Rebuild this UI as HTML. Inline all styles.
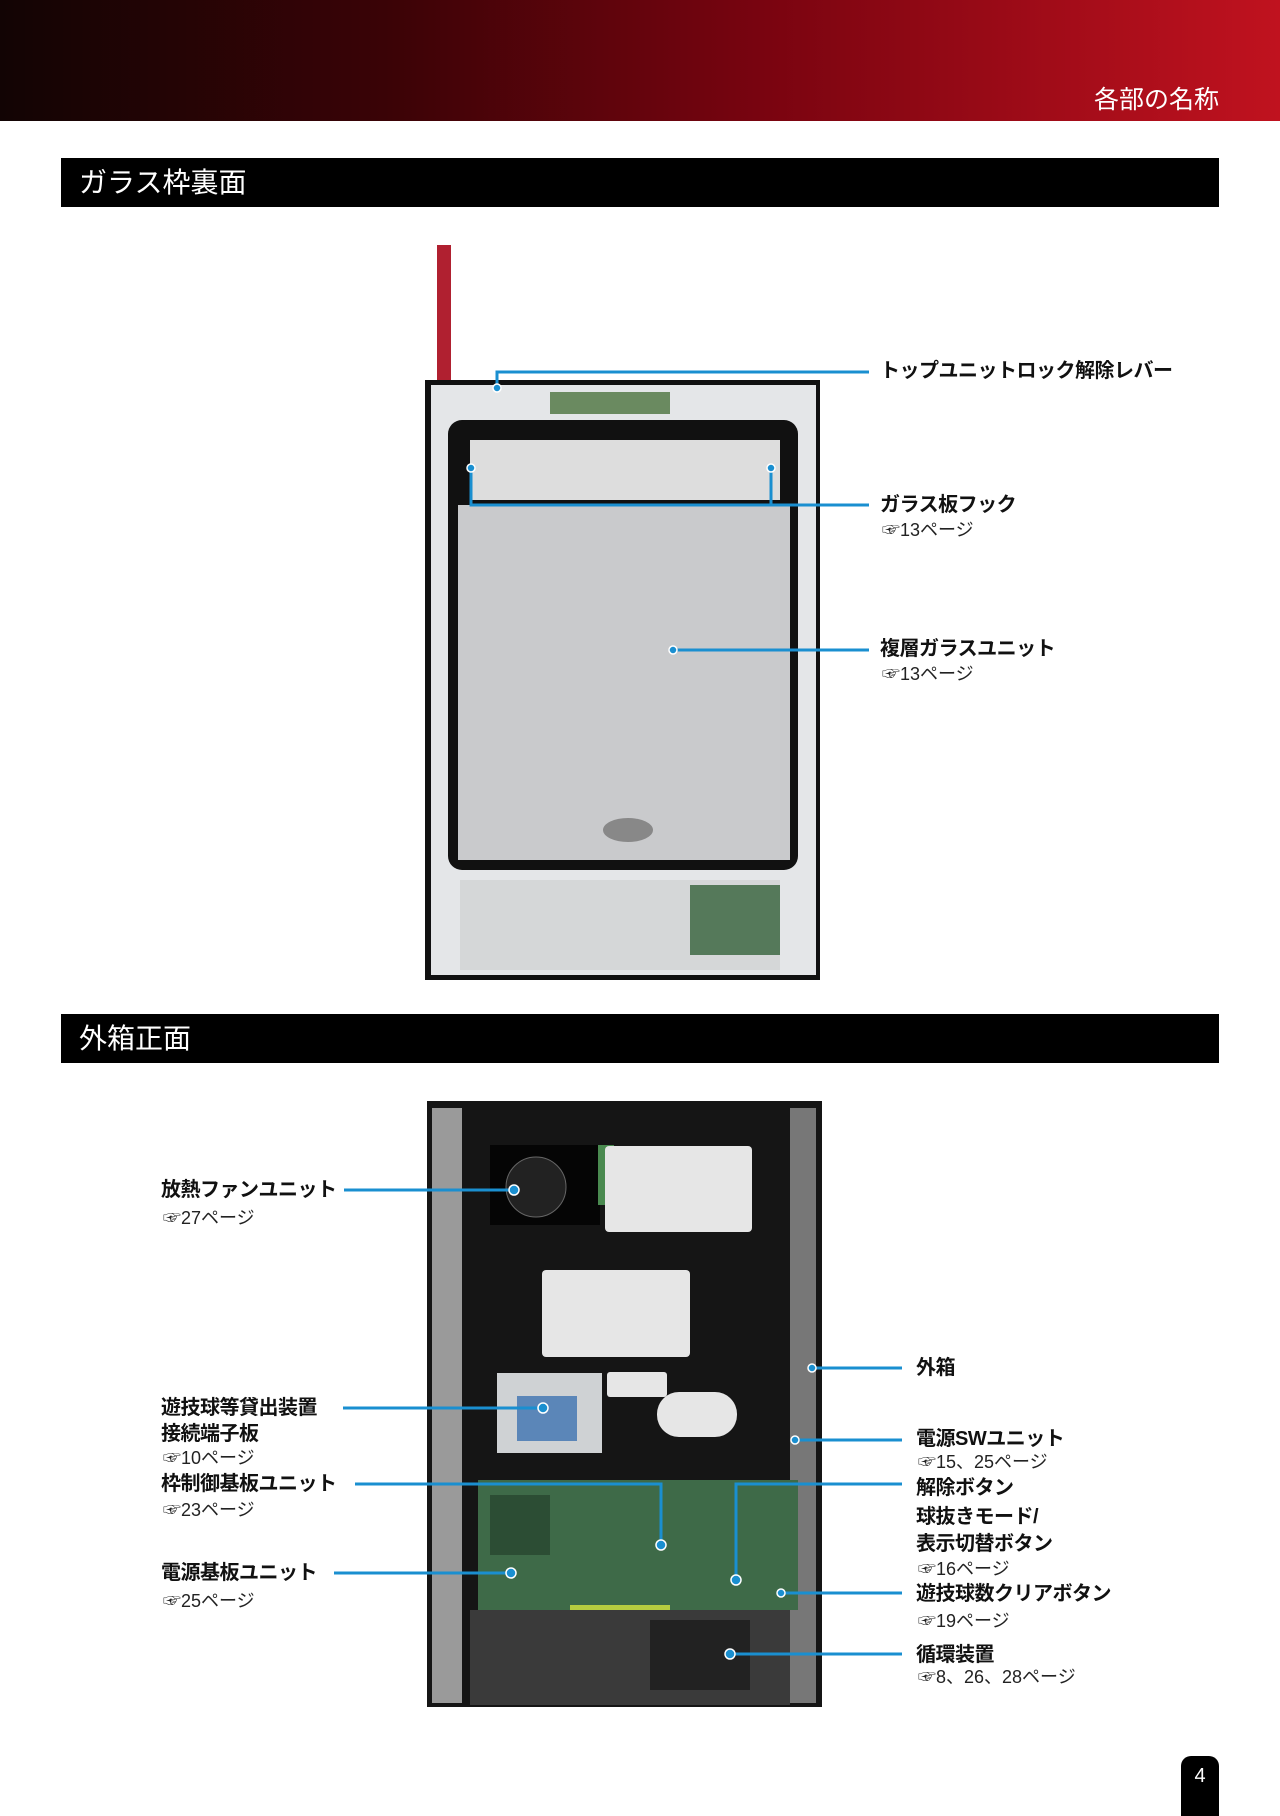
<!DOCTYPE html>
<html><head><meta charset="utf-8"><style>
body{margin:0;width:1280px;height:1811px;position:relative;background:#fff;font-family:"Liberation Sans","Noto Sans CJK JP",sans-serif;overflow:hidden}
.hdr{position:absolute;left:0;top:0;width:1280px;height:121px;background:linear-gradient(90deg,#120404 0%,#3a0306 30%,#7a0410 60%,#c0121f 100%)}
.hdr span{position:absolute;right:61px;top:80px;color:#fff;font-size:25px}
.bar{position:absolute;left:61px;width:1158px;height:49px;background:#000;color:#fff;font-size:28px;line-height:49px}
.bar span{margin-left:18px}
.l{position:absolute;font-size:20px;font-weight:bold;color:#111;white-space:nowrap;line-height:1;letter-spacing:-0.5px}
.s{position:absolute;font-size:18px;color:#222;white-space:nowrap;line-height:1}
svg{position:absolute;left:0;top:0}
</style></head><body>
<div class="hdr"><span>各部の名称</span></div>
<div class="bar" style="top:158px"><span>ガラス枠裏面</span></div>
<div class="bar" style="top:1014px"><span>外箱正面</span></div>

<svg width="1280" height="1811">
<!-- glass frame -->
<rect x="437" y="245" width="14" height="140" fill="#b02030"/>
<rect x="425" y="380" width="395" height="600" fill="#111"/>
<rect x="431" y="385" width="385" height="590" fill="#e4e6e8"/>
<rect x="448" y="420" width="350" height="450" rx="14" fill="#111"/>
<rect x="458" y="505" width="332" height="355" fill="#c9cacc"/>
<rect x="470" y="440" width="310" height="60" fill="#ddd"/>
<rect x="550" y="392" width="120" height="22" fill="#6a8a60"/>
<rect x="460" y="880" width="320" height="90" fill="#d5d7d8"/>
<rect x="690" y="885" width="90" height="70" fill="#55795a"/>
<ellipse cx="628" cy="830" rx="25" ry="12" fill="#888"/>
<!-- outer box -->
<rect x="427" y="1101" width="395" height="606" fill="#151515"/>
<rect x="432" y="1108" width="30" height="595" fill="#9a9a9a"/>
<rect x="790" y="1108" width="26" height="595" fill="#777"/>
<rect x="490" y="1145" width="110" height="80" fill="#050505"/>
<circle cx="536" cy="1187" r="30" fill="#222" stroke="#666"/>
<rect x="598" y="1145" width="16" height="60" fill="#4a8a50"/>
<rect x="605" y="1146" width="147" height="86" rx="4" fill="#e6e6e6"/>
<rect x="542" y="1270" width="148" height="87" rx="4" fill="#e6e6e6"/>
<rect x="607" y="1372" width="60" height="25" rx="3" fill="#e6e6e6"/>
<rect x="657" y="1392" width="80" height="45" rx="22" fill="#e6e6e6"/>
<rect x="497" y="1373" width="105" height="80" fill="#cfd2d4"/>
<rect x="517" y="1396" width="60" height="45" fill="#5b86b8"/>
<rect x="478" y="1480" width="320" height="130" fill="#3e6a48"/>
<rect x="490" y="1495" width="60" height="60" fill="#2c4d34"/>
<rect x="570" y="1605" width="100" height="30" fill="#b6cc40"/>
<rect x="470" y="1610" width="320" height="95" fill="#3a3a3a"/>
<rect x="650" y="1620" width="100" height="70" fill="#222"/>
<g stroke="#1a8fd0" stroke-width="3" fill="none">
<polyline points="497,388 497,372 869,372"/>
<polyline points="471,468 471,505 869,505"/>
<polyline points="771,468 771,505"/>
<line x1="673" y1="650" x2="869" y2="650"/>
<line x1="344" y1="1190" x2="514" y2="1190"/>
<line x1="343" y1="1408" x2="543" y2="1408"/>
<polyline points="355,1484 661,1484 661,1545"/>
<line x1="334" y1="1573" x2="511" y2="1573"/>
<line x1="812" y1="1368" x2="902" y2="1368"/>
<line x1="795" y1="1440" x2="902" y2="1440"/>
<polyline points="902,1484 736,1484 736,1580"/>
<line x1="781" y1="1593" x2="902" y2="1593"/>
<line x1="730" y1="1654" x2="902" y2="1654"/>
</g>
<g fill="#1a8fd0" stroke="#fff" stroke-width="1.5">
<circle cx="497" cy="388" r="4"/><circle cx="471" cy="468" r="4"/><circle cx="771" cy="468" r="4"/>
<circle cx="673" cy="650" r="4"/><circle cx="514" cy="1190" r="5"/><circle cx="543" cy="1408" r="5"/>
<circle cx="661" cy="1545" r="5"/><circle cx="511" cy="1573" r="5"/><circle cx="812" cy="1368" r="4"/>
<circle cx="795" cy="1440" r="4"/><circle cx="736" cy="1580" r="5"/><circle cx="781" cy="1593" r="4"/><circle cx="730" cy="1654" r="5"/>
</g>
</svg>

<div class="l" style="left:880px;top:361px">トップユニットロック解除レバー</div>
<div class="l" style="left:880px;top:495px">ガラス板フック</div>
<div class="s" style="left:882px;top:521px">☞13ページ</div>
<div class="l" style="left:880px;top:639px">複層ガラスユニット</div>
<div class="s" style="left:882px;top:665px">☞13ページ</div>

<div class="l" style="left:161px;top:1180px">放熱ファンユニット</div>
<div class="s" style="left:163px;top:1209px">☞27ページ</div>
<div class="l" style="left:161px;top:1398px">遊技球等貸出装置</div>
<div class="l" style="left:161px;top:1424px">接続端子板</div>
<div class="s" style="left:163px;top:1449px">☞10ページ</div>
<div class="l" style="left:161px;top:1474px">枠制御基板ユニット</div>
<div class="s" style="left:163px;top:1501px">☞23ページ</div>
<div class="l" style="left:161px;top:1563px">電源基板ユニット</div>
<div class="s" style="left:163px;top:1592px">☞25ページ</div>

<div class="l" style="left:916px;top:1358px">外箱</div>
<div class="l" style="left:916px;top:1429px">電源SWユニット</div>
<div class="s" style="left:918px;top:1453px">☞15、25ページ</div>
<div class="l" style="left:916px;top:1478px">解除ボタン</div>
<div class="l" style="left:916px;top:1507px">球抜きモード/</div>
<div class="l" style="left:916px;top:1534px">表示切替ボタン</div>
<div class="s" style="left:918px;top:1560px">☞16ページ</div>
<div class="l" style="left:916px;top:1584px">遊技球数クリアボタン</div>
<div class="s" style="left:918px;top:1612px">☞19ページ</div>
<div class="l" style="left:916px;top:1645px">循環装置</div>
<div class="s" style="left:918px;top:1668px">☞8、26、28ページ</div>

<div style="position:absolute;left:1181px;top:1756px;width:38px;height:60px;background:#000;border-radius:10px 10px 0 0;color:#fff;font-size:20px;text-align:center;line-height:40px">4</div>
</body></html>
